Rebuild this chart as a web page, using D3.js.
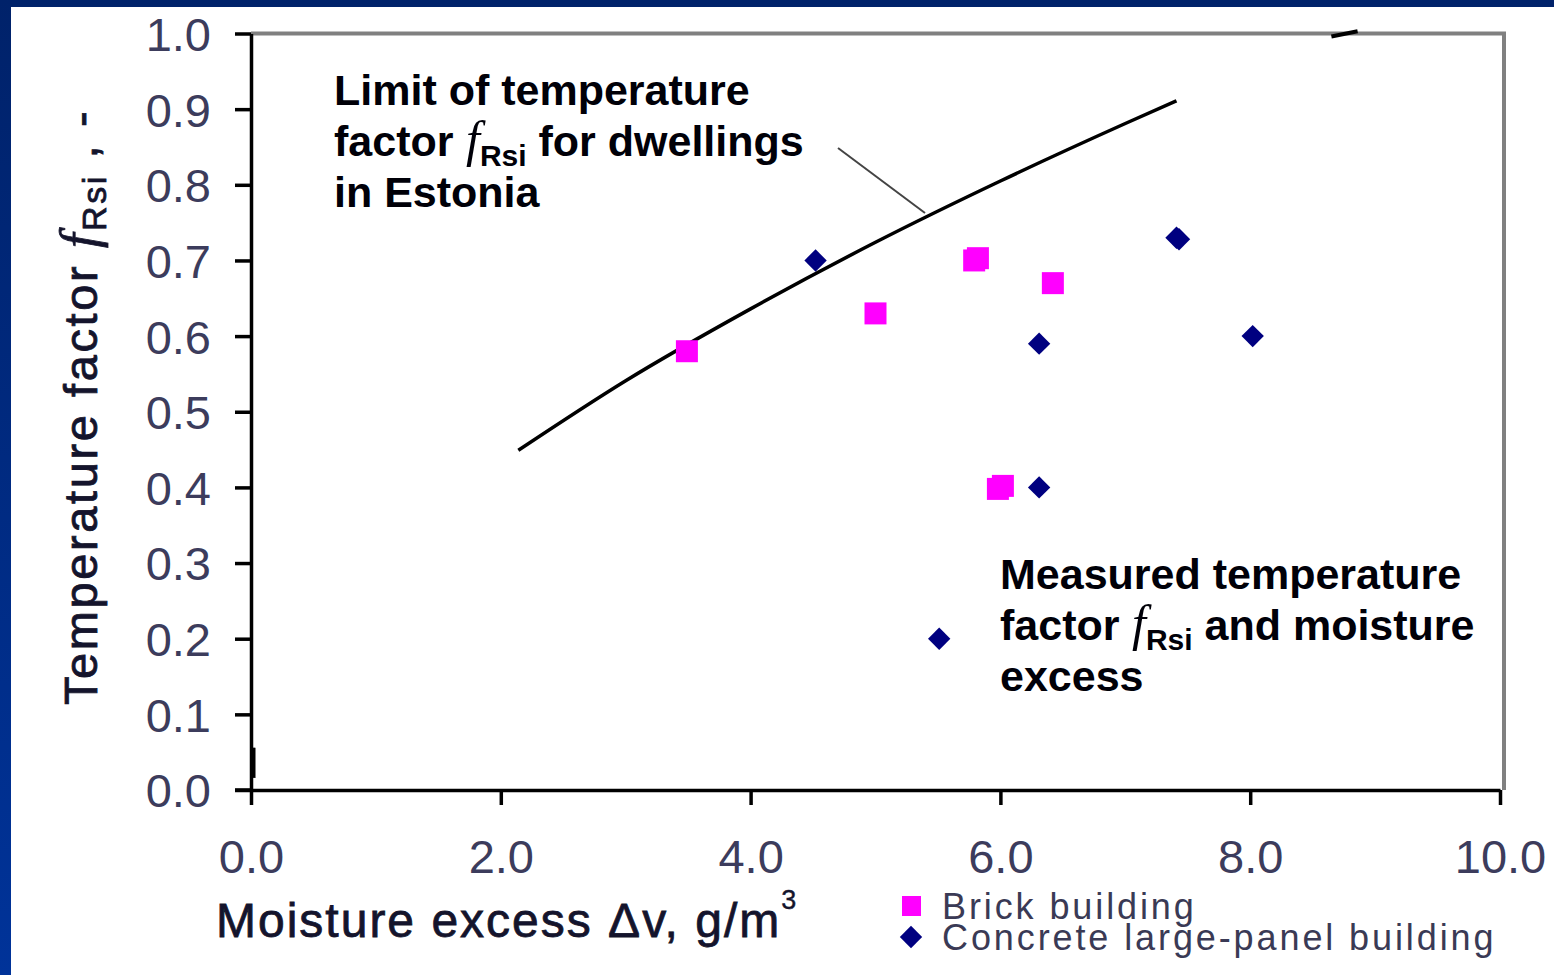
<!DOCTYPE html>
<html>
<head>
<meta charset="utf-8">
<script src="https://cdn.jsdelivr.net/npm/d3@7"></script>
<style>
  html, body { margin: 0; padding: 0; background: #fff; }
  svg { display: block; }
  text { font-family: "Liberation Sans", Arial, sans-serif; }
</style>
</head>
<body>
<div id="chart"></div>
<script>
// axis ticks
const xTicks = [0, 2, 4, 6, 8, 10];
const yTicks = [0, 0.1, 0.2, 0.3, 0.4, 0.5, 0.6, 0.7, 0.8, 0.9, 1.0];

// limit of temperature factor for dwellings in Estonia
const limitX = [2.14, 3.0, 4.0, 5.0, 6.0, 7.0, 7.41];
const limitY = [0.449, 0.541, 0.636, 0.724, 0.805, 0.881, 0.911];
// short piece of the same curve showing at the top border
const limitTailX = [8.65, 8.86];
const limitTailY = [0.996, 1.003];

// measured points
const brickX = [3.49, 5.0, 5.79, 5.82, 6.42, 5.98, 6.02];
const brickY = [0.58, 0.63, 0.70, 0.703, 0.67, 0.398, 0.402];
const concreteX = [4.52, 7.41, 7.43, 6.31, 8.02, 6.31, 5.51];
const concreteY = [0.70, 0.73, 0.728, 0.59, 0.60, 0.40, 0.20];

const legendLabels = ['Brick building', 'Concrete large-panel building'];

const W = 1554, H = 975;
const x = d3.scaleLinear().domain([0, 10]).range([251, 1500]);
const y = d3.scaleLinear().domain([0, 1]).range([790, 33.5]);

const svg = d3.select('#chart').append('svg')
  .attr('width', W)
  .attr('height', H);

// slide frame
const defs = svg.append('defs');
const grad = defs.append('linearGradient')
  .attr('id', 'frame')
  .attr('x1', 0).attr('y1', 0).attr('x2', 0).attr('y2', 1);
grad.append('stop').attr('offset', '0%').attr('stop-color', '#00226a');
grad.append('stop').attr('offset', '100%').attr('stop-color', '#003399');
svg.append('rect').attr('width', W).attr('height', H).attr('fill', 'url(#frame)');
svg.append('rect').attr('x', 11).attr('y', 7).attr('width', W - 11).attr('height', H - 7).attr('fill', '#fff');

defs.append('clipPath').attr('id', 'plot')
  .append('rect')
  .attr('x', x(0)).attr('y', y(1))
  .attr('width', x(10) - x(0)).attr('height', y(0) - y(1));

// grey top and right border
svg.append('path')
  .attr('d', `M${x(0)},${y(1)}H${x(10) + 4}V${y(0)}`)
  .attr('fill', 'none')
  .attr('stroke', '#808080')
  .attr('stroke-width', 4);

// axes
let yAxis = svg.append('g')
  .attr('transform', `translate(${x(0)},0)`)
  .call(d3.axisLeft(y).tickValues(yTicks).tickFormat(d3.format('.1f'))
    .tickSize(16).tickSizeOuter(0).tickPadding(24));

let xAxis = svg.append('g')
  .attr('transform', `translate(0,${y(0)})`)
  .call(d3.axisBottom(x).tickValues(xTicks).tickFormat(d3.format('.1f'))
    .tickSize(15).tickSizeOuter(0));

[yAxis, xAxis].forEach(function (ax) {
  ax.select('.domain').attr('stroke', '#000').attr('stroke-width', 3.5);
  ax.selectAll('.tick line').attr('stroke', '#000').attr('stroke-width', 3.5);
  ax.selectAll('.tick text')
    .attr('fill', '#3c3c5c')
    .style('font-size', '47px');
});
yAxis.selectAll('.tick text').attr('dy', '0.36em');
xAxis.selectAll('.tick text').attr('y', 83).attr('dy', 0);
// x axis extends left under the 0.0 y tick
xAxis.append('line')
  .attr('x1', x(0) - 16).attr('x2', x(0))
  .attr('stroke', '#000').attr('stroke-width', 3.5);

// small mark next to the y axis near the bottom
svg.append('line')
  .attr('x1', x(0) + 3).attr('x2', x(0) + 3)
  .attr('y1', y(0.056)).attr('y2', y(0.016))
  .attr('stroke', '#000').attr('stroke-width', 3);

// limit curve
const line = d3.line()
  .x(function (d) { return x(d[0]); })
  .y(function (d) { return y(d[1]); })
  .curve(d3.curveMonotoneX);

svg.append('path')
  .datum(d3.zip(limitX, limitY))
  .attr('clip-path', 'url(#plot)')
  .attr('d', line)
  .attr('fill', 'none')
  .attr('stroke', '#000')
  .attr('stroke-width', 3.5);

svg.append('path')
  .datum(d3.zip(limitTailX, limitTailY))
  .attr('d', line)
  .attr('fill', 'none')
  .attr('stroke', '#000')
  .attr('stroke-width', 4);

// points
const square = d3.symbol().type(d3.symbolSquare).size(22 * 22);
const diamond = d3.symbol().type(d3.symbolSquare).size(250);

svg.append('g').selectAll('path')
  .data(d3.zip(brickX, brickY))
  .enter()
  .append('path')
  .attr('d', square)
  .attr('transform', function (d) { return `translate(${x(d[0])},${y(d[1])})`; })
  .attr('fill', '#ff00ff');

svg.append('g').selectAll('path')
  .data(d3.zip(concreteX, concreteY))
  .enter()
  .append('path')
  .attr('d', diamond)
  .attr('transform', function (d) { return `translate(${x(d[0])},${y(d[1])}) rotate(45)`; })
  .attr('fill', '#000080');

// annotation leader line
svg.append('line')
  .attr('x1', 838).attr('y1', 148)
  .attr('x2', 925).attr('y2', 213)
  .attr('stroke', '#444')
  .attr('stroke-width', 2);

// annotation text blocks with italic f and subscript Rsi
function addNote(x0, y0, lines) {
  let t = svg.append('text')
    .attr('x', x0).attr('y', y0)
    .attr('fill', '#000008')
    .style('font-size', '43px')
    .style('font-weight', 'bold');
  lines.forEach(function (ln, i) {
    t.append('tspan').attr('x', x0).attr('y', y0 + i * 51).text(ln[0]);
    if (ln.length > 1) {
      t.append('tspan')
        .style('font-family', '"Liberation Serif", "Times New Roman", serif')
        .style('font-style', 'italic')
        .style('font-weight', 'normal')
        .style('font-size', '50px')
        .text(' f');
      t.append('tspan').attr('dy', 10).style('font-size', '30px').text('Rsi');
      t.append('tspan').attr('dy', -10).text(ln[1]);
    }
  });
}
addNote(334, 105, [['Limit of temperature'], ['factor', ' for dwellings'], ['in Estonia']]);
addNote(1000, 589, [['Measured temperature'], ['factor', ' and moisture'], ['excess']]);

// axis titles
let xt = svg.append('text')
  .attr('x', 216).attr('y', 937)
  .attr('fill', '#14142c')
  .style('font-size', '48px')
  .style('letter-spacing', '2px')
  .style('stroke', '#14142c')
  .style('stroke-width', '0.8px')
  .text('Moisture excess \u0394v, g/m');
xt.append('tspan').attr('dy', -28).style('font-size', '27px').style('stroke-width', '0.4px').text('3');

let yt = svg.append('text')
  .attr('transform', 'translate(97,705) rotate(-90)')
  .attr('fill', '#14142c')
  .style('font-size', '47px')
  .style('letter-spacing', '2.6px')
  .style('stroke', '#14142c')
  .style('stroke-width', '0.8px')
  .text('Temperature factor ');
yt.append('tspan')
  .style('font-family', '"Liberation Serif", "Times New Roman", serif')
  .style('font-style', 'italic')
  .style('font-size', '52px')
  .text('f');
yt.append('tspan').attr('dy', 9).style('font-size', '34px').text('Rsi');
yt.append('tspan').attr('dy', -9).text(' , -');

// legend
const legend = svg.append('g');
legend.append('rect')
  .attr('x', 902).attr('y', 896).attr('width', 19).attr('height', 20)
  .attr('fill', '#ff00ff');
legend.append('path')
  .attr('d', diamond)
  .attr('transform', 'translate(911,937) rotate(45)')
  .attr('fill', '#000080');
legend.selectAll('text')
  .data(legendLabels)
  .enter()
  .append('text')
  .attr('x', 942)
  .attr('y', function (d, i) { return 919 + i * 31; })
  .attr('fill', '#3a3a55')
  .style('font-size', '36px')
  .style('letter-spacing', '2.9px')
  .text(function (d) { return d; });
</script>
</body>
</html>
